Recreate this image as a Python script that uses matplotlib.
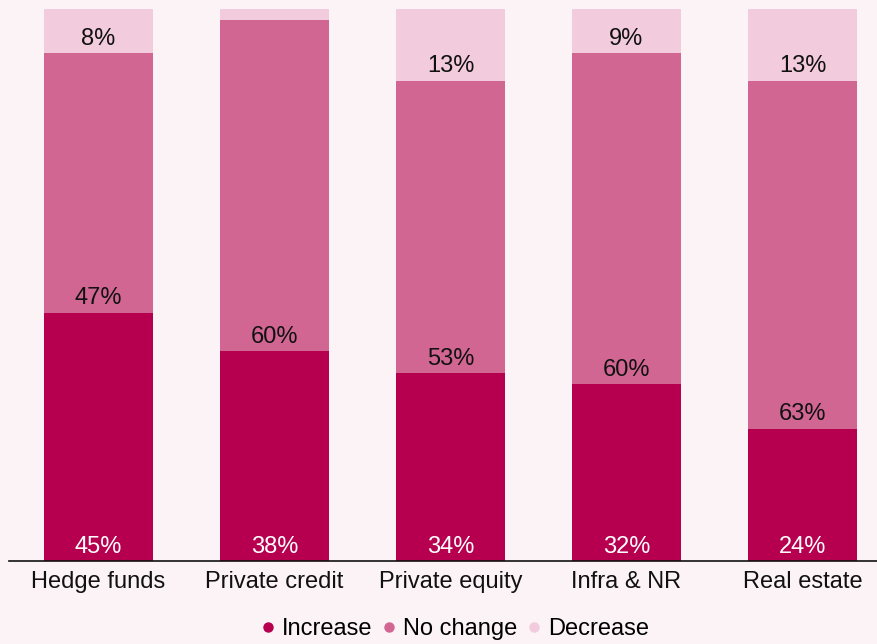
import numpy as np
import matplotlib
matplotlib.use("Agg")
import matplotlib.pyplot as plt
from matplotlib.lines import Line2D

plt.rcParams['font.family'] = ['Liberation Sans', 'DejaVu Sans']

categories = ["Hedge funds", "Private credit", "Private equity", "Infra & NR", "Real estate"]
increase = [45, 38, 34, 32, 24]
no_change = [47, 60, 53, 60, 63]
decrease = [8, 2, 13, 9, 13]
show_decrease = [True, False, True, True, True]

bg = "#fbf3f6"
c_inc = "#b6004f"
c_nc = "#d26692"
c_dec = "#f2cbdc"

fig = plt.figure(figsize=(8.77, 6.44), dpi=100, facecolor=bg)
ax = fig.add_axes([9 / 877, 83 / 644, 1 - 9 / 877, (561 - 9) / 644])
ax.set_facecolor(bg)

x = np.arange(len(categories))
w = 0.62
inc = np.array(increase)
nc = np.array(no_change)
dec = np.array(decrease)

ax.bar(x, inc, w, color=c_inc)
ax.bar(x, nc, w, bottom=inc, color=c_nc)
ax.bar(x, dec, w, bottom=inc + nc, color=c_dec)

fs = 17
for i in range(len(categories)):
    ax.annotate(f"{increase[i]}%", (x[i], 0), xytext=(0, 6), textcoords="offset points",
                ha="center", va="baseline", color="white", fontsize=fs)
    ax.annotate(f"{no_change[i]}%", (x[i], inc[i]), xytext=(0, 6), textcoords="offset points",
                ha="center", va="baseline", color="#111111", fontsize=fs)
    if show_decrease[i]:
        ax.annotate(f"{decrease[i]}%", (x[i], inc[i] + nc[i]), xytext=(0, 6), textcoords="offset points",
                    ha="center", va="baseline", color="#111111", fontsize=fs)

ax.set_xlim((9 - 98.5) / 176, (877 - 98.5) / 176)
ax.set_ylim(0, 100)
ax.set_xticks(x)
ax.set_xticklabels(categories, fontsize=fs, color="#111111")
ax.tick_params(axis="x", length=0, pad=7)
ax.set_yticks([])
for s in ["top", "right", "left"]:
    ax.spines[s].set_visible(False)
ax.spines["bottom"].set_color("#111111")
ax.spines["bottom"].set_linewidth(1.2)

handles = [Line2D([], [], marker="o", linestyle="", markersize=6.5, color=c)
           for c in (c_inc, c_nc, c_dec)]
fig.legend(handles, ["Increase", "No change", "Decrease"], loc="center",
           bbox_to_anchor=(454 / 877, 1 - 629 / 644), ncol=3, frameon=False,
           fontsize=fs, handletextpad=0.2, columnspacing=0.3, handlelength=0.8)

fig.savefig("out.png", dpi=100, facecolor=bg)
